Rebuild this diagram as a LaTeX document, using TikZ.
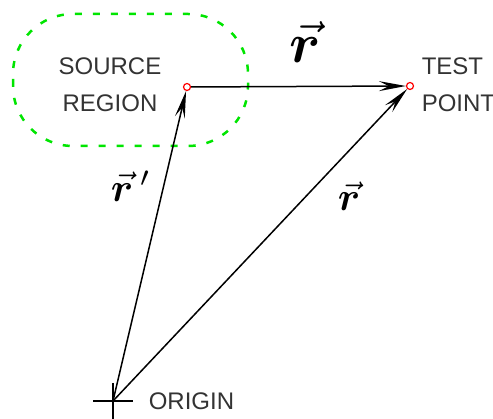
\documentclass[tikz,border=0pt]{standalone}
\usepackage{amsmath}
\usepackage{bm}
\usepackage{fontspec}
\setmainfont{Liberation Sans}
\usetikzlibrary{arrows.meta, positioning}

\begin{document}
\begin{tikzpicture}[x=1pt, y=1pt, line width=1.5pt,
    vec/.style={-{Stealth[length=27pt, width=10pt, inset=10pt]}},
    dot/.style={circle, draw=red, line width=1.2pt, minimum size=7pt, inner sep=0pt},
    lbl/.style={text=black!80, inner sep=0pt, align=left, font=\fontsize{24}{37}\selectfont},
    sym/.style={inner sep=0pt, scale=4}]
    \useasboundingbox (0,0) rectangle (493,419);
    \draw[green!90!black, dash pattern=on 7pt off 11pt, line width=2.5pt, rounded corners=60pt]
        (13,273) rectangle (248,405);
    \coordinate (org) at (113,18);
    \node[dot] (src) at (187,332) {};
    \node[dot] (tst) at (410,333) {};
    \draw ([xshift=-20pt]org) -- ([xshift=20pt]org);
    \draw ([yshift=18pt]org) -- ([yshift=-18pt]org);
    \draw[vec] (src) -- (tst);
    \draw[vec] (org) -- (src);
    \draw[vec] (org) -- (tst);
    \node[lbl, align=center] (srclbl) at (110,334) {SOURCE\\REGION};
    \node[lbl, anchor=west] (tstlbl) at (421,334) {TEST\\POINT};
    \node[lbl, anchor=west] (orglbl) at (148,18) {ORIGIN};
    \node[sym, scale=1.4] (sep) at (305,377) {$\vec{\bm{r}}$};
    \node[sym] (rp) at (131,233) {$\vec{\bm{r}}\,'$};
    \node[sym] (r) at (349,223) {$\vec{\bm{r}}$};
\end{tikzpicture}
\end{document}
